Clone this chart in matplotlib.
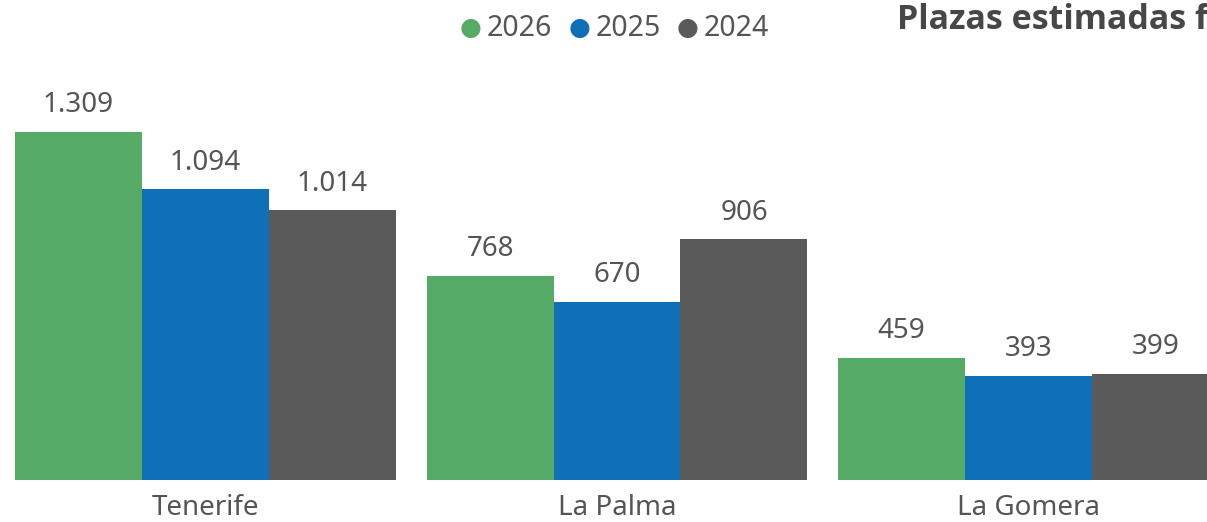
import numpy as np
import matplotlib.pyplot as plt

plt.rcParams['font.family'] = ['Noto Sans', 'DejaVu Sans']

islands = ['Tenerife', 'La Palma', 'La Gomera']
years = ['2026', '2025', '2024']
plazas_2026 = [1309, 768, 459]
plazas_2025 = [1094, 670, 393]
plazas_2024 = [1014, 906, 399]
colors = ['#55AB66', '#0F70B7', '#5A5A5A']

series = [plazas_2026, plazas_2025, plazas_2024]
text_col = '#555555'


def fmt(v):
    return f'{v:,}'.replace(',', '.')


fig = plt.figure(figsize=(12.07, 5.22), dpi=100)
ax = fig.add_axes([0, 42 / 522, 1, 480 / 522])

x = np.arange(len(islands))
w = 0.3086
for i, (vals, c) in enumerate(zip(series, colors)):
    bars = ax.bar(x + (i - 1) * w, vals, width=w, color=c, label=years[i])
    for b, v in zip(bars, vals):
        ax.annotate(fmt(v), (b.get_x() + b.get_width() / 2, v),
                    xytext=(0, 9), textcoords='offset points',
                    ha='center', va='bottom', fontsize=20, color=text_col)

ax.set_xlim(-0.4994, 2.4338)
ax.set_ylim(0, 480 / 0.2659)
ax.set_xticks(x)
ax.set_xticklabels(islands, fontsize=20, color=text_col)
ax.tick_params(axis='x', length=0, pad=10)
ax.set_yticks([])
for s in ax.spines.values():
    s.set_visible(False)

# legend along the top
leg_x = [471, 580, 688]
for lx, yr, c in zip(leg_x, years, colors):
    fig.text(lx / 1207, 1 - 28 / 522, '\u25CF', color=c, fontsize=18,
             ha='center', va='center')
    fig.text((lx + 16) / 1207, 1 - 28 / 522, yr, color=text_col, fontsize=20.5,
             ha='left', va='center')

fig.text(897 / 1207, 1 - 29 / 522, 'Plazas estimadas f', color='#474747',
         fontsize=24.5, fontweight='bold', ha='left', va='baseline',
         family=['Open Sans', 'DejaVu Sans'])

fig.savefig('out.png', dpi=100)
